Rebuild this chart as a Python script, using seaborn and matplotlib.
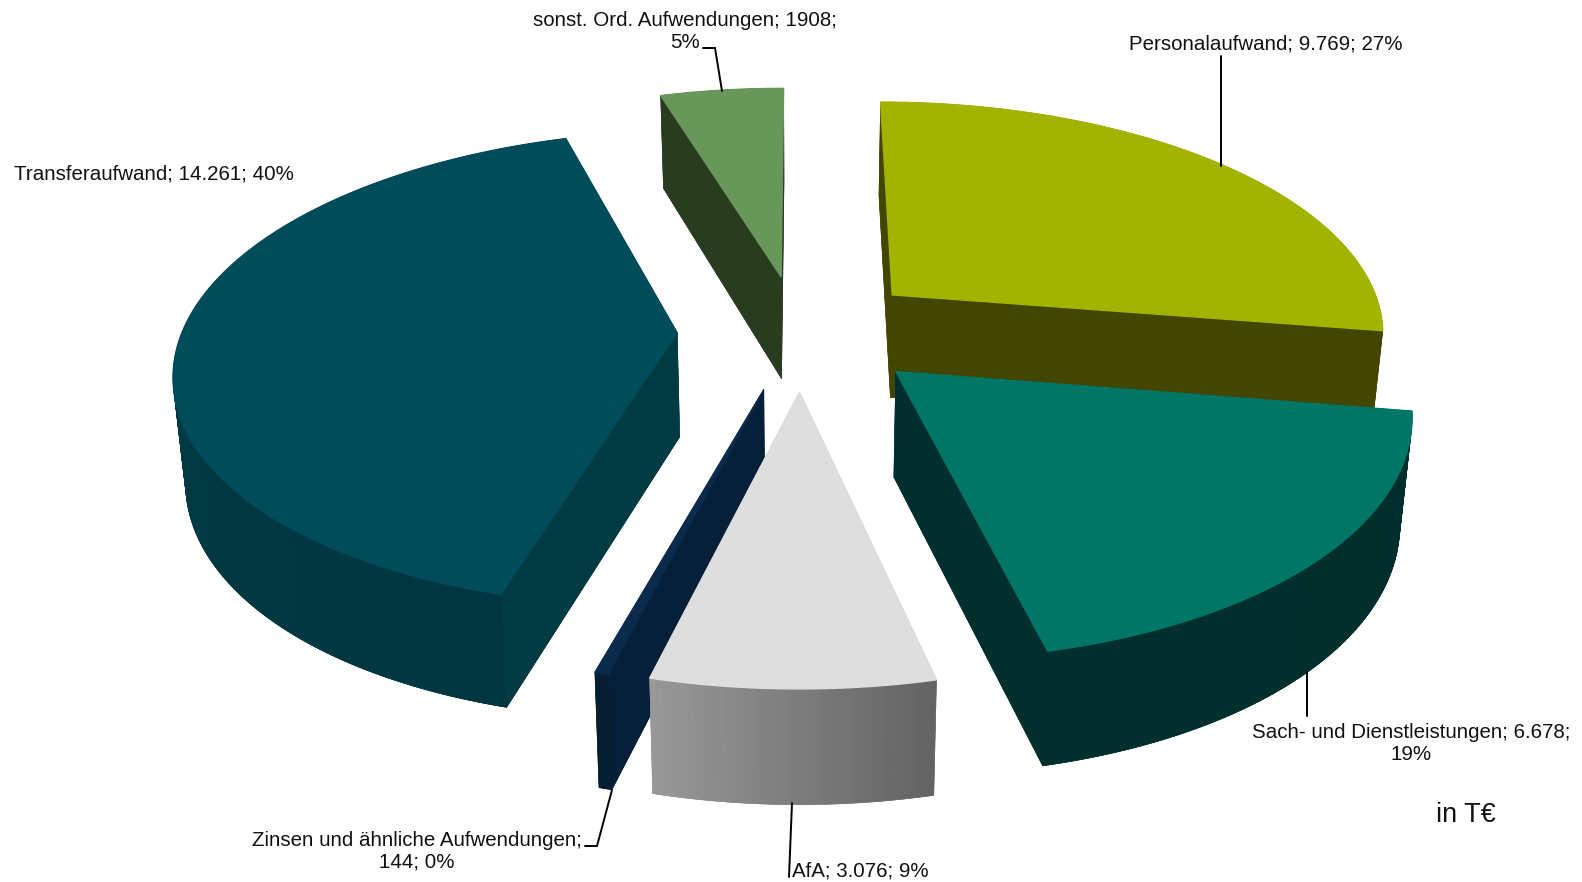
import numpy as np
import matplotlib
matplotlib.use('Agg')
import matplotlib.pyplot as plt
import seaborn as sns

categories = ['Personalaufwand', 'Sach- und Dienstleistungen', 'AfA',
              'Zinsen und ähnliche Aufwendungen', 'Transferaufwand',
              'sonst. Ord. Aufwendungen']
values = [9769, 6678, 3076, 144, 14261, 1908]
value_labels = ['9.769', '6.678', '3.076', '144', '14.261', '1908']
percent_labels = ['27%', '19%', '9%', '0%', '40%', '5%']

top_colors = ['#A3B400', '#007667', '#DEDEDE', '#0A2B4C', '#004C5B', '#67985A']
side_colors = ['#434600', '#002F2D', '#8A8A8A', '#061F38', '#003B44', '#2A3C20']
rim_start = ['#434600', '#002E2C', '#636363', '#071D30', '#00363F', '#2A3C20']
rim_end = ['#434600', '#00302D', '#999999', '#071D30', '#003E49', '#2A3C20']

# projection of the tilted pie onto the picture (pixels)
CX, CY = 801, 332
A, C = 495, 232
PERSP = 0.15
DEPTH = 104
EXPLODE = 0.25
WARP = 0.06

sns.set_theme(style='white')
plt.rcParams['font.family'] = ['Liberation Sans', 'DejaVu Sans']


def project(x, y):
    d = 1 - PERSP * y
    return CX + A * x / d, CY + C * y / d


def drop(x, y):
    # same point on the lower face of the slice
    px, py = project(x, y)
    return CX + (px - CX) * 0.98, py + DEPTH * (1 + 0.09 * y)


def lerp_color(c1, c2, t):
    a = np.array(matplotlib.colors.to_rgb(c1))
    b = np.array(matplotlib.colors.to_rgb(c2))
    return a + (b - a) * t


def draw_slice(ax, start, end, i):
    mid = (start + end) / 2
    ex, ey = EXPLODE * np.sin(mid), -EXPLODE * np.cos(mid)
    n = max(3, int(np.degrees(end - start) * 1.5))
    th = np.linspace(start, end, n)
    th = th - WARP * np.sin(2 * th)
    x = ex + np.sin(th)
    y = ey - np.cos(th)
    xs = np.r_[ex, x]
    ys = np.r_[ey, y]

    tx, ty = project(xs, ys)
    bx, by = drop(xs, ys)
    ax.fill(bx, by, color=side_colors[i], lw=0.4)

    # the two cut faces
    for k in [1, n]:
        ax.fill([tx[0], tx[k], bx[k], bx[0]], [ty[0], ty[k], by[k], by[0]],
                color=side_colors[i], lw=0.4)

    # outer rim
    for k in range(1, n):
        c = lerp_color(rim_start[i], rim_end[i], (k - 1) / (n - 1))
        ax.fill([tx[k], tx[k + 1], bx[k + 1], bx[k]],
                [ty[k], ty[k + 1], by[k + 1], by[k]], color=c, lw=0.4)

    ax.fill(tx, ty, color=top_colors[i], lw=1.0)


def leader(ax, xs, ys):
    ax.plot(xs, ys, color='black', lw=1.4, solid_joinstyle='miter')


fig, ax = plt.subplots(figsize=(15.82, 8.82), dpi=100)
fig.subplots_adjust(0, 0, 1, 1)
ax.set_xlim(0, 1582)
ax.set_ylim(882, 0)
ax.axis('off')

angles = np.r_[0, np.cumsum(values)] / np.sum(values) * 2 * np.pi
for i in [5, 0, 4, 3, 2, 1]:
    draw_slice(ax, angles[i], angles[i + 1], i)

leader(ax, [1221, 1221], [56, 166])
leader(ax, [1307, 1307], [672, 716])
leader(ax, [792, 789], [803, 877])
leader(ax, [585, 597, 612], [846, 846, 790])
leader(ax, [703, 715, 722], [48, 48, 91])

texts = [f'{c}; {v}; {p}' for c, v, p in zip(categories, value_labels, percent_labels)]
texts[1] = f'{categories[1]}; {value_labels[1]};\n{percent_labels[1]}'
texts[3] = f'{categories[3]};\n{value_labels[3]}; {percent_labels[3]}'
texts[5] = f'{categories[5]}; {value_labels[5]};\n{percent_labels[5]}'
text_pos = [(1266, 44), (1411, 743), (860, 871), (417, 851), (154, 174), (685, 31)]
for t, (tx, ty) in zip(texts, text_pos):
    ax.text(tx, ty, t, ha='center', va='center', fontsize=14.8, color='#111111',
            linespacing=1.2)
ax.text(1466, 815, 'in T€', ha='center', va='center', fontsize=19.5, color='#111111')

fig.savefig('out.png', dpi=100)
